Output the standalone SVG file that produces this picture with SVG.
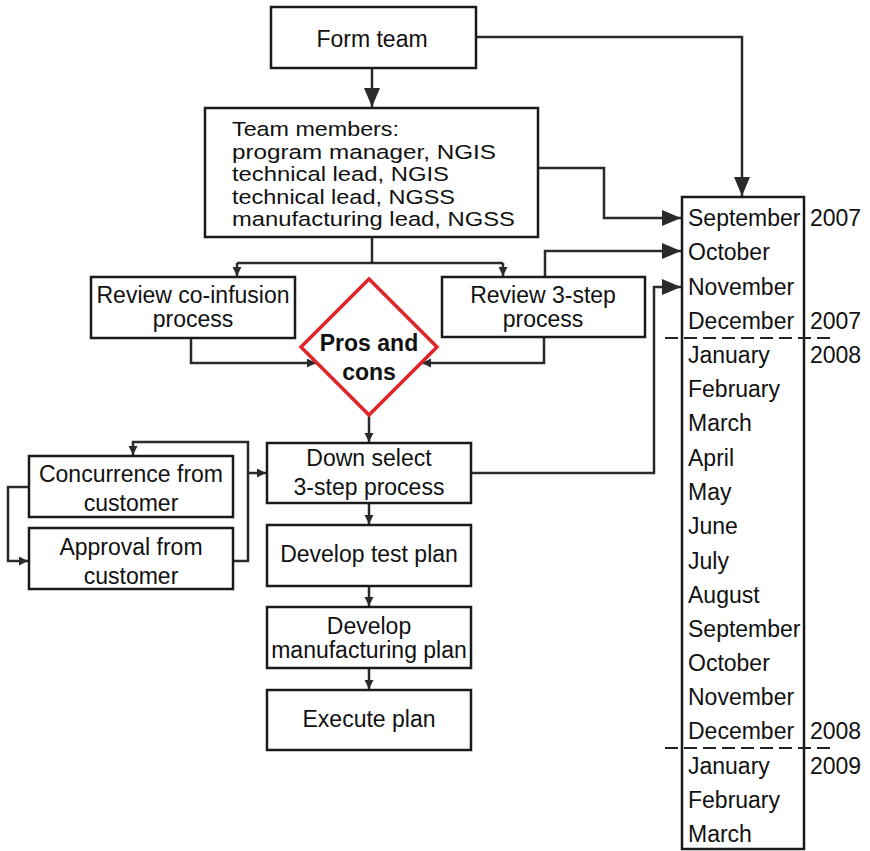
<svg xmlns="http://www.w3.org/2000/svg" width="870" height="851" viewBox="0 0 870 851">
<defs>
<style>
.box{fill:#fff;stroke:#1a1a1a;stroke-width:2.5}
.t{font-family:"Liberation Sans",Arial,sans-serif;font-size:23px;fill:#111;text-anchor:middle}
.tl{font-family:"Liberation Sans",Arial,sans-serif;font-size:20.5px;fill:#111}
.m{font-family:"Liberation Sans",Arial,sans-serif;font-size:23px;fill:#111}
.c{fill:none;stroke:#2a2a2a;stroke-width:2.5}
.cb{fill:none;stroke:#2a2a2a;stroke-width:2.5;marker-end:url(#big)}
.cs{fill:none;stroke:#2a2a2a;stroke-width:2.5;marker-end:url(#small)}
.dash{stroke:#222;stroke-width:2;stroke-dasharray:13,6}
</style>
<marker id="big" markerUnits="userSpaceOnUse" markerWidth="20" markerHeight="18" refX="19" refY="8" orient="auto"><path d="M0,0 L19,8 L0,16 z" fill="#2a2a2a"/></marker>
<marker id="small" markerUnits="userSpaceOnUse" markerWidth="10" markerHeight="10" refX="9" refY="4.5" orient="auto"><path d="M0,0 L9,4.5 L0,9 z" fill="#2a2a2a"/></marker>
</defs>
<rect width="870" height="851" fill="#fff"/>
<g id="connectors">
<path class="cb" d="M372,68 V107"/>
<path class="cb" d="M476,37 H742 V196"/>
<path class="cb" d="M538,168 H604 V218 H681"/>
<path class="cb" d="M545,277 V251 H681"/>
<path class="cb" d="M471,473 H654 V287 H681"/>
<path class="c" d="M372,237 V263"/>
<path class="c" d="M237,263 H503"/>
<path class="cs" d="M237,263 V276"/>
<path class="cs" d="M503,263 V276"/>
<path class="cs" d="M191,338 V363 H316"/>
<path class="cs" d="M544,337 V363 H422"/>
<path class="cs" d="M369,416 V442"/>
<path class="cs" d="M233,561 H248 V442 H133 V455"/>
<path class="cs" d="M248,473 H266"/>
<path class="cs" d="M29,487 H8 V561 H28"/>
<path class="cs" d="M369,503 V524"/>
<path class="cs" d="M369,586 V606"/>
<path class="cs" d="M369,668 V689"/>
</g>
<g id="form-team"><rect class="box" x="271" y="7" width="205" height="61"/><text class="t" x="372" y="47" font-size="24">Form team</text></g>
<g id="team-members"><rect class="box" x="205" y="108" width="333" height="129"/>
<text class="tl" x="232" y="136" textLength="167" lengthAdjust="spacingAndGlyphs">Team members:</text>
<text class="tl" x="232" y="158.5" textLength="264" lengthAdjust="spacingAndGlyphs">program manager, NGIS</text>
<text class="tl" x="232" y="181" textLength="217" lengthAdjust="spacingAndGlyphs">technical lead, NGIS</text>
<text class="tl" x="232" y="203.5" textLength="223" lengthAdjust="spacingAndGlyphs">technical lead, NGSS</text>
<text class="tl" x="232" y="226" textLength="283" lengthAdjust="spacingAndGlyphs">manufacturing lead, NGSS</text></g>
<g id="review-coinfusion"><rect class="box" x="91" y="277" width="204" height="61"/><text class="t" x="193" y="303">Review co-infusion</text><text class="t" x="193" y="327">process</text></g>
<g id="review-3step"><rect class="box" x="442" y="277" width="203" height="60"/><text class="t" x="543" y="303">Review 3-step</text><text class="t" x="543" y="327">process</text></g>
<g id="pros-cons"><polygon points="369,279 437,347 369,415 301,347" fill="#fff" stroke="#e0242a" stroke-width="3.5"/><text class="t" x="369" y="351" font-size="21" font-weight="bold">Pros and</text><text class="t" x="369" y="380" font-size="21" font-weight="bold">cons</text></g>
<g id="down-select"><rect class="box" x="267" y="443" width="204" height="60"/><text class="t" x="369" y="466">Down select</text><text class="t" x="369" y="495">3-step process</text></g>
<g id="concurrence"><rect class="box" x="29" y="456" width="204" height="61"/><text class="t" x="131" y="482">Concurrence from</text><text class="t" x="131" y="511">customer</text></g>
<g id="approval"><rect class="box" x="29" y="528" width="204" height="61"/><text class="t" x="131" y="555">Approval from</text><text class="t" x="131" y="584">customer</text></g>
<g id="test-plan"><rect class="box" x="267" y="525" width="204" height="61"/><text class="t" x="369" y="562">Develop test plan</text></g>
<g id="mfg-plan"><rect class="box" x="267" y="607" width="204" height="61"/><text class="t" x="369" y="634">Develop</text><text class="t" x="369" y="658">manufacturing plan</text></g>
<g id="execute"><rect class="box" x="267" y="690" width="204" height="60"/><text class="t" x="369" y="727">Execute plan</text></g>
<g id="timeline">
<rect x="682" y="197" width="122" height="652" fill="none" stroke="#1a1a1a" stroke-width="2.5"/>
<line class="dash" x1="665" y1="338" x2="830" y2="338"/>
<line class="dash" x1="665" y1="748" x2="830" y2="748"/>
<g class="m">
<text x="688" y="226">September</text>
<text x="688" y="260">October</text>
<text x="688" y="295">November</text>
<text x="688" y="329">December</text>
<text x="688" y="363">January</text>
<text x="688" y="397">February</text>
<text x="688" y="431">March</text>
<text x="688" y="466">April</text>
<text x="688" y="500">May</text>
<text x="688" y="534">June</text>
<text x="688" y="569">July</text>
<text x="688" y="603">August</text>
<text x="688" y="637">September</text>
<text x="688" y="671">October</text>
<text x="688" y="705">November</text>
<text x="688" y="739">December</text>
<text x="688" y="774">January</text>
<text x="688" y="808">February</text>
<text x="688" y="842">March</text>
<text x="810" y="226">2007</text>
<text x="810" y="329">2007</text>
<text x="810" y="363">2008</text>
<text x="810" y="739">2008</text>
<text x="810" y="774">2009</text>
</g>
</g>
</svg>
